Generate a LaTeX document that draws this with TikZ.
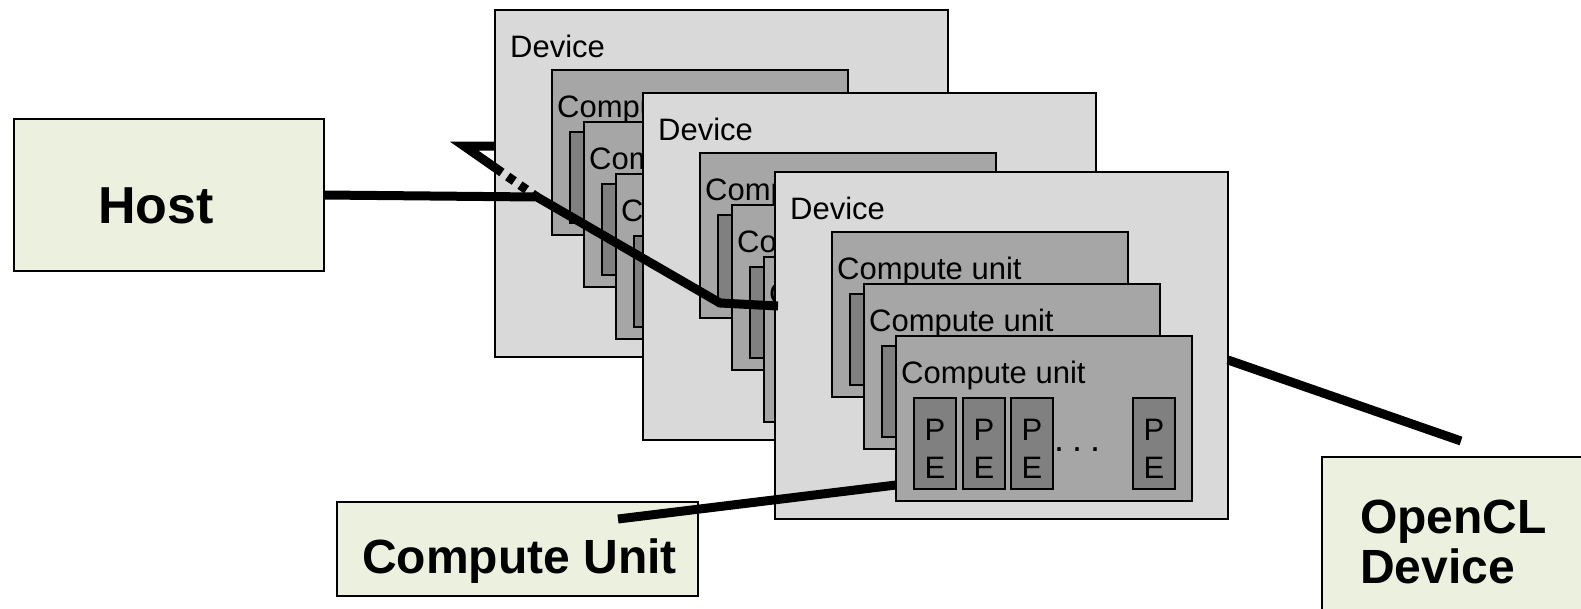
\documentclass[tikz,border=0pt]{standalone}
\usepackage{fontspec}
\setmainfont{Liberation Sans}
\usetikzlibrary{calc}

\definecolor{devfill}{HTML}{D9D9D9}
\definecolor{cufill}{HTML}{A6A6A6}
\definecolor{pefill}{HTML}{808080}
\definecolor{labelfill}{HTML}{EBF1DE}

\tikzset{
  box/.style={draw=black, line width=1.5pt, inner sep=0pt, outer sep=0pt, anchor=north west},
  devbox/.style={box, fill=devfill, minimum width=453pt, minimum height=347pt},
  cubox/.style={box, fill=cufill, minimum width=296pt, minimum height=165pt},
  pebox/.style={box, fill=pefill, minimum width=42pt, minimum height=91pt},
  lblbox/.style={box, fill=labelfill},
  smalltext/.style={font=\fontsize{31}{36}\selectfont, inner sep=0pt, anchor=base west},
  bigtext/.style={font=\fontsize{48}{50}\selectfont\bfseries, inner sep=0pt, anchor=base west},
  wire/.style={line width=9pt, line join=miter},
}

% one compute unit with its processing elements
\newcommand\drawcu[3]{%
  \begin{scope}[shift={(#2,#3)}]
    \node[cubox] (#1) at (0,0) {};
    \node[smalltext] (#1-l) at (5,47) {Compute unit};
    \foreach \i/\px in {1/18,2/67,3/115,4/237}{
      \node[pebox] (#1-pe\i) at (\px,62) {};
      \node[smalltext, anchor=base] (#1-p\i) at (\px+21,104) {P};
      \node[smalltext, anchor=base] (#1-e\i) at (\px+21,142) {E};
    }
    \node[smalltext, font=\fontsize{36}{40}\selectfont] (#1-dots) at (158,115)
      {.\hspace{8pt}.\hspace{8pt}.};
  \end{scope}}

% one device holding three compute units
\newcommand\drawdevice[3]{%
  \begin{scope}[shift={(#2,#3)}]
    \node[devbox] (#1) at (0,0) {};
    \node[smalltext] (#1-l) at (15,47) {Device};
    \drawcu{#1-cu1}{57}{60}
    \drawcu{#1-cu2}{89}{112}
    \drawcu{#1-cu3}{121}{164}
  \end{scope}}

\begin{document}
\begin{tikzpicture}[x=1pt, y=-1pt]
  \useasboundingbox (0,0) rectangle (1581,608);
  \fill[white] (0,0) rectangle (1581,608);
  \clip (0,0) rectangle (1581,608);

  % stacked devices, back to front
  \drawdevice{dev1}{495}{10}
  \drawdevice{dev2}{643}{93}
  \drawdevice{dev3}{775}{172}

  % callout boxes
  \node[lblbox, minimum width=310pt, minimum height=152pt] (host) at (14,119) {};
  \node[bigtext, font=\fontsize{52}{54}\selectfont\bfseries] (host-t) at (98,223) {Host};

  \node[lblbox, minimum width=361pt, minimum height=94pt] (cu) at (337,502) {};
  \node[bigtext] (cu-t) at (362,573) {Compute Unit};

  \node[lblbox, minimum width=300pt, minimum height=200pt] (ocl) at (1322,457) {};
  \node[bigtext] (ocl-t1) at (1360,533) {OpenCL};
  \node[bigtext] (ocl-t2) at (1360,583) {Device};

  % connectors
  \coordinate (h1) at (537,197);
  \coordinate (h2) at (720,303);
  \coordinate (h3) at (778,306);
  \draw[wire] (host.east) -- (h1) -- (h2) -- (h3);

  \coordinate (v0) at (495,146);
  \coordinate (v1) at (464,146);
  \coordinate (vm) at ($(v1)!0.43!(h1)$);
  \draw[wire] (v0) -- (v1) -- (vm);
  \draw[wire, dash pattern=on 8pt off 7pt] (vm) -- (h1);

  \coordinate (c0) at (618,519);
  \coordinate (c1) at (896,485);
  \draw[wire] (c0) -- (c1);

  \coordinate (o0) at (1228,360);
  \coordinate (o1) at (1461,441);
  \draw[wire] (o0) -- (o1);
\end{tikzpicture}
\end{document}
